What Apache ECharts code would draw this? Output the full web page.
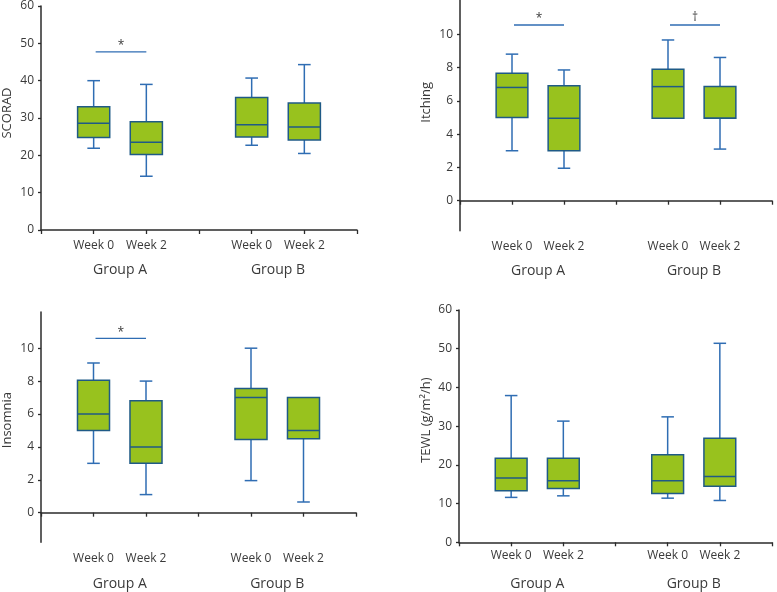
<!DOCTYPE html>
<html>
<head>
<meta charset="utf-8">
<script src="https://cdn.jsdelivr.net/npm/echarts@6/dist/echarts.min.js"></script>
<style>
html,body{margin:0;padding:0;background:#fff;}
#chart{width:777px;height:592px;}
</style>
</head>
<body>
<div id="chart"></div>
<script>
// ---- data ----
const weekLabels = ['', 'Week 0', 'Week 2', '', 'Week 0', 'Week 2', ''];
const groupLabels = ['Group A', 'Group B'];
const boxPositions = [1, 2, 4, 5];

// [min, Q1, median, Q3, max]
const scorad   = [[21.9, 24.8, 28.6, 33.0, 40.0], [14.4, 20.2, 23.5, 29.0, 39.0], [22.7, 24.9, 28.2, 35.5, 40.7], [20.5, 24.1, 27.6, 34.0, 44.3]];
const itching  = [[3.0, 5.0, 6.8, 7.65, 8.8], [1.95, 3.0, 4.95, 6.9, 7.85], [4.95, 4.95, 6.85, 7.9, 9.65], [3.1, 4.95, 4.95, 6.85, 8.6]];
const insomnia = [[3.0, 5.0, 6.0, 8.05, 9.1], [1.1, 3.0, 4.0, 6.8, 8.0], [1.95, 4.45, 7.0, 7.55, 10.0], [0.65, 4.5, 5.0, 7.0, 7.0]];
const tewl     = [[11.6, 13.3, 16.6, 21.7, 37.9], [12.0, 13.9, 15.9, 21.7, 31.3], [11.4, 12.6, 15.9, 22.6, 32.4], [10.8, 14.5, 17.0, 26.9, 51.4]];

const yNames = ['SCORAD', 'Itching', 'Insomnia', 'TEWL (g/m²/h)'];
const scoradTicks = [0, 10, 20, 30, 40, 50, 60];
const itchingTicks = [0, 2, 4, 6, 8, 10];
const insomniaTicks = [0, 2, 4, 6, 8, 10];
const tewlTicks = [0, 10, 20, 30, 40, 50, 60];

// significance brackets: [fromIndex, toIndex, y], marks
const scoradBrackets = [[1, 2, 47.7]];
const scoradMarks = ['*'];
const itchingBrackets = [[1, 2, 10.55], [4, 5, 10.55]];
const itchingMarks = ['*', '†'];
const insomniaBrackets = [[1, 2, 10.6]];
const insomniaMarks = ['*'];
const tewlBrackets = [];
const tewlMarks = [];

// ---- styles ----
const FONT = '"Open Sans", "Noto Sans", sans-serif';
const TXT = '#3a3a3a';
const AX = '#2b2b2b';
const FILL = '#98c21e';
const BORDER = '#1f5a86';
const WHISK = '#2f6db3';

const panels = [
  {vals: scorad, ticks: scoradTicks, min: 0, max: 60, br: scoradBrackets, marks: scoradMarks,
   grid: {left: 41, top: 3, width: 316, height: 227}, weekMargin: 10, groupOffset: 25, nameGap: 27, namePad: 10},
  {vals: itching, ticks: itchingTicks, min: -1.8, max: 12.05, br: itchingBrackets, marks: itchingMarks,
   grid: {left: 460, top: 0, width: 312, height: 230.7}, weekMargin: 10, groupOffset: 25, nameGap: 27, namePad: 26},
  {vals: insomnia, ticks: insomniaTicks, min: -1.8, max: 12.2, br: insomniaBrackets, marks: insomniaMarks,
   grid: {left: 41, top: 312, width: 315, height: 230.3}, weekMargin: 10, groupOffset: 27, nameGap: 27, namePad: 14},
  {vals: tewl, ticks: tewlTicks, min: 0, max: 60, br: tewlBrackets, marks: tewlMarks,
   grid: {left: 459, top: 310, width: 313, height: 232.3}, weekMargin: 7, groupOffset: 27, nameGap: 26, namePad: 12}
];

function renderBox(params, api) {
  const x = api.value(0);
  const band = api.size([1, 0])[0];
  const bw = band * 0.61, cw = band * 0.24;
  const pMin = api.coord([x, api.value(1)]);
  const pQ1 = api.coord([x, api.value(2)]);
  const pMed = api.coord([x, api.value(3)]);
  const pQ3 = api.coord([x, api.value(4)]);
  const pMax = api.coord([x, api.value(5)]);
  const cx = pMin[0];
  const wStyle = {stroke: WHISK, lineWidth: 1.5};
  const children = [];
  if (pMin[1] - pQ1[1] > 0.5) {
    children.push({type: 'line', shape: {x1: cx, y1: pQ1[1], x2: cx, y2: pMin[1]}, style: wStyle});
    children.push({type: 'line', shape: {x1: cx - cw / 2, y1: pMin[1], x2: cx + cw / 2, y2: pMin[1]}, style: wStyle});
  }
  if (pQ3[1] - pMax[1] > 0.5) {
    children.push({type: 'line', shape: {x1: cx, y1: pQ3[1], x2: cx, y2: pMax[1]}, style: wStyle});
    children.push({type: 'line', shape: {x1: cx - cw / 2, y1: pMax[1], x2: cx + cw / 2, y2: pMax[1]}, style: wStyle});
  }
  children.push({type: 'rect', shape: {x: cx - bw / 2, y: pQ3[1], width: bw, height: pQ1[1] - pQ3[1]},
    style: {fill: FILL, stroke: BORDER, lineWidth: 1.5}});
  children.push({type: 'line', shape: {x1: cx - bw / 2, y1: pMed[1], x2: cx + bw / 2, y2: pMed[1]},
    style: {stroke: BORDER, lineWidth: 1.5}});
  return {type: 'group', children};
}

function makeBracketRenderer(marks) {
  return function (params, api) {
    const p1 = api.coord([api.value(0), api.value(2)]);
    const p2 = api.coord([api.value(1), api.value(2)]);
    const mark = marks[params.dataIndex];
    const isStar = mark === '*';
    return {type: 'group', children: [
      {type: 'line', shape: {x1: p1[0] + 2, y1: p1[1], x2: p2[0], y2: p2[1]}, style: {stroke: WHISK, lineWidth: 1.3}},
      {type: 'text', style: {text: mark, x: (p1[0] + p2[0]) / 2 + 1, y: p1[1] - (isStar ? 6 : 1),
        align: 'center', verticalAlign: isStar ? 'middle' : 'bottom', fill: TXT, font: '12px ' + FONT}}
    ]};
  };
}

const grids = [], xAxes = [], yAxes = [], series = [];
panels.forEach((p, i) => {
  grids.push(p.grid);
  xAxes.push({
    type: 'category', gridIndex: i, data: weekLabels, boundaryGap: false,
    axisLine: {lineStyle: {color: AX, width: 1.5}},
    axisTick: {length: 4, lineStyle: {color: AX, width: 1.3}},
    axisLabel: {color: TXT, fontSize: 12, fontFamily: FONT, margin: p.weekMargin, interval: 0},
    splitLine: {show: false}
  });
  yAxes.push({
    type: 'value', gridIndex: i, min: p.min, max: p.max,
    name: yNames[i], nameLocation: 'middle', nameRotate: 90, nameGap: p.nameGap,
    nameTextStyle: {color: TXT, fontSize: 13, fontFamily: FONT, padding: [0, 0, 0, p.namePad]},
    axisLine: {show: true, lineStyle: {color: AX, width: 1.5}},
    axisTick: {show: true, length: 3, lineStyle: {color: AX, width: 1.3}, customValues: p.ticks},
    axisLabel: {color: TXT, fontSize: 12, fontFamily: FONT, margin: 7, customValues: p.ticks},
    splitLine: {show: false}
  });
  series.push({
    type: 'custom', xAxisIndex: i, yAxisIndex: i,
    data: p.vals.map((v, k) => [boxPositions[k]].concat(v)),
    encode: {x: 0, y: [1, 2, 3, 4, 5]},
    renderItem: renderBox, silent: true
  });
  if (p.br.length) {
    series.push({
      type: 'custom', xAxisIndex: i, yAxisIndex: i,
      data: p.br, encode: {x: [0, 1], y: 2},
      renderItem: makeBracketRenderer(p.marks), silent: true
    });
  }
});
panels.forEach((p, i) => {
  xAxes.push({
    type: 'category', gridIndex: i, data: groupLabels, boundaryGap: true, position: 'bottom',
    offset: p.groupOffset,
    axisLine: {show: false}, axisTick: {show: false},
    axisLabel: {color: TXT, fontSize: 14, fontFamily: FONT, margin: 8, interval: 0},
    splitLine: {show: false}
  });
});

const chart = echarts.init(document.getElementById('chart'), null, {renderer: 'canvas'});
chart.setOption({
  animation: false,
  backgroundColor: '#ffffff',
  grid: grids,
  xAxis: xAxes,
  yAxis: yAxes,
  series: series
});
</script>
</body>
</html>
